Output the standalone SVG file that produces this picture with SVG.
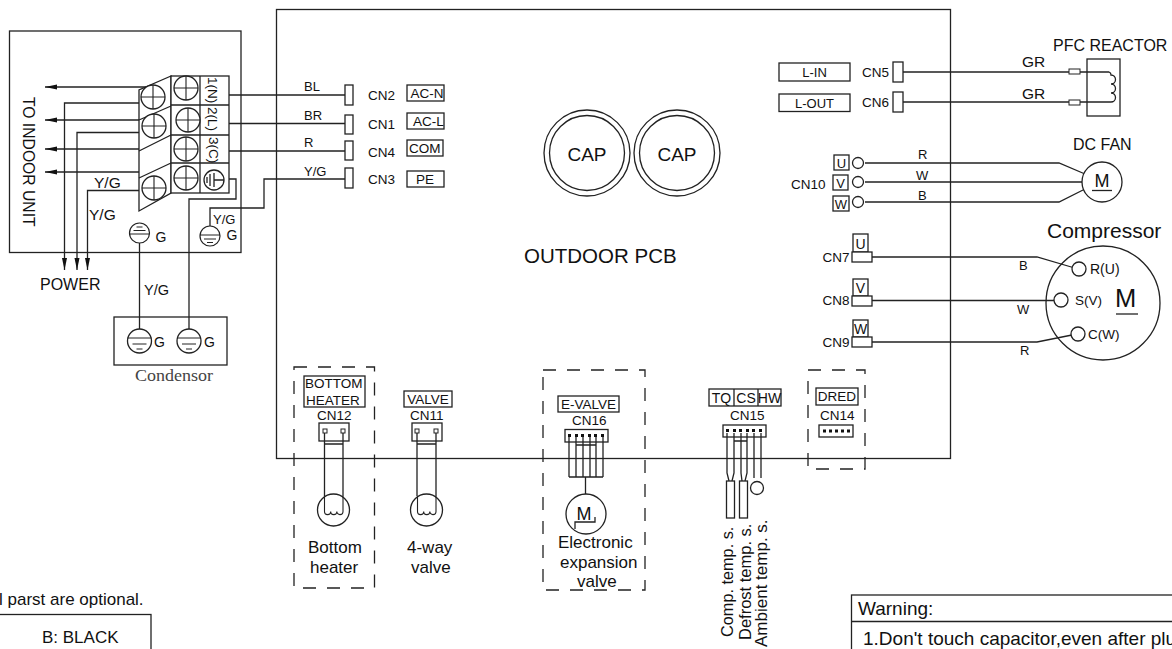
<svg xmlns="http://www.w3.org/2000/svg" width="1172" height="649" viewBox="0 0 1172 649">
<style>
text{font-family:"Liberation Sans",Arial,sans-serif;fill:#111;font-size:13.500px}
.l{fill:none;stroke:#222;stroke-width:1.300}
.b{fill:#fff;stroke:#222;stroke-width:1.300}
.n{fill:none;stroke:#222;stroke-width:1.300}
.d{fill:none;stroke:#222;stroke-width:1.300;stroke-dasharray:13 11}
.p{fill:#fff;stroke:#222;stroke-width:1}
.t14{font-size:14px}.t15{font-size:15.500px}.t17{font-size:17px}.t16{font-size:16px}
.t13{font-size:13px}.t19{font-size:19px}
.m{text-anchor:middle}
</style>
<defs>
<marker id="ah" viewBox="0 0 12 6" refX="12" refY="3" markerWidth="12" markerHeight="6" markerUnits="userSpaceOnUse" orient="auto"><path d="M0 0.500L12 3L0 5.500Z" fill="#111"/></marker>
<g id="screw"><circle r="12" fill="#fff" stroke="#222" stroke-width="1.300"/><path d="M-12 0H12M0 -12V12" stroke="#222" stroke-width="1.100"/></g>
<g id="gnd"><circle r="10" fill="#fff" stroke="#222" stroke-width="1.200"/><path d="M-10 -1H10M-6 3H6M-3 6.500H3" stroke="#222" stroke-width="1"/></g>
<g id="gnd-up"><circle r="10" fill="#fff" stroke="#222" stroke-width="1.200"/><path d="M-10 1H10M-6 -2.500H6M-3 -6H3" stroke="#222" stroke-width="1"/></g>
<g id="gnd2"><circle r="12" fill="#fff" stroke="#222" stroke-width="1.300"/><path d="M-12 -3H12M-7 3H7M-3 8H3" stroke="#222" stroke-width="1"/></g>
<path id="coil" d="M-9.250 -14V1.500a3.080 3.080 0 0 0 6.170 0a3.080 3.080 0 0 0 6.170 0a3.080 3.080 0 0 0 6.160 0V-14" fill="none" stroke="#222" stroke-width="1.100"/>
</defs>

<g id="pcb"><rect x="276.500" y="9.500" width="674" height="449" class="n"/>
<text x="524" y="263" style="font-size:20.500px">OUTDOOR PCB</text></g>

<g id="indoor-unit"><rect x="9.500" y="31" width="231.500" height="221.500" class="n"/>
<text transform="translate(23,97) rotate(90)" style="font-size:15.700px">TO INDOOR UNIT</text></g>

<g id="connectors">
<path class="l" d="M171 87H45" marker-end="url(#ah)"/>
<path class="l" d="M171 120H45" marker-end="url(#ah)"/>
<path class="l" d="M171 149H45" marker-end="url(#ah)"/>
<path class="l" d="M171 172H45" marker-end="url(#ah)"/>
<path class="l" d="M139 103H64.500V270" marker-end="url(#ah)"/>
<path class="l" d="M139 132.500H77V270" marker-end="url(#ah)"/>
<path class="l" d="M139 190.500H87.500V270" marker-end="url(#ah)"/>
<path class="l" d="M229 95H345M229 123.500H345M229 151H345"/>
<path class="l" d="M345 179H264V208H210V226"/>
<path class="l" d="M225 179H236V199H189V330"/>
<path class="l" d="M139.500 243V330"/>
<path class="l" d="M903 72H1069M903 102H1069"/>
<path class="l" d="M865 163H1059L1085 174M865 182H1082M865 202H1059L1083 190"/>
<path class="l" d="M872 257H1037L1073 267.500M872 300.500H1054M872 342H1037L1072 335"/>
<path class="l" d="M324.500 433V496M343 433V496M324.500 444H343"/>
<path class="l" d="M417 433V496M436 433V496M417 444H436"/>
<path class="l" d="M569 437V477M576 437V477M583 437V477M590 437V477M596 437V477M603 437V477M569 477H603M576 445H596M585.500 477V494"/>
<path class="l" d="M727 433V473L729 481M734 433V473L732 481M741 433V473L742 481M747 433V473L745 481M754 433V478M761 433V478M734 441H747"/>
</g>

<g id="terminal-block">
<path class="b" d="M171 76L139 90V211L171 193Z"/>
<path class="n" d="M171 106L139 120M171 135L139 151M171 163L139 178"/>
<rect x="171" y="76" width="58" height="117" class="b"/>
<path class="n" d="M200 76V193M171 105H229M171 135H229M171 163H229"/>
<use href="#screw" x="186" y="88"/><use href="#screw" x="188" y="120"/><use href="#screw" x="186" y="149"/><use href="#screw" x="186" y="178"/>
<use href="#screw" x="153" y="97"/><use href="#screw" x="154" y="126"/><use href="#screw" x="154" y="188"/>
<circle cx="214" cy="180" r="10" class="n"/><path class="n" d="M214 173V187M214 180H224M210 174V186M207 177V183" stroke-width="1"/>
<text transform="translate(207.500,77) rotate(90)">1(N)</text>
<text transform="translate(207.500,107) rotate(90)">2(L)</text>
<text transform="translate(208.500,137) rotate(90)">3(C)</text>
</g>

<g id="wire-labels-left">
<text x="94" y="188" class="t15">Y/G</text><text x="89" y="220" class="t15">Y/G</text>
<text x="213" y="224" class="t13">Y/G</text><text x="144" y="295" style="font-size:14.500px">Y/G</text>
</g>

<g id="ground-g1"><use href="#gnd-up" x="139.500" y="233"/><text x="155.500" y="242" class="t14">G</text></g>
<g id="ground-g2"><use href="#gnd" x="210" y="236"/><text x="226.500" y="240" class="t14">G</text></g>
<g id="power"><text x="40" y="290" class="t16">POWER</text></g>

<g id="condensor"><rect x="114" y="317" width="113" height="48" class="n"/>
<use href="#gnd2" x="139.500" y="341"/><use href="#gnd2" x="189" y="341"/>
<text x="154" y="346.500" class="t14">G</text><text x="204" y="346.500" class="t14">G</text>
<text x="135" y="381" textLength="78" lengthAdjust="spacingAndGlyphs" style="font-family:'Liberation Serif',serif;font-size:16px;fill:#444">Condensor</text></g>

<g id="cn-left">
<rect x="345" y="85" width="8" height="20" class="b"/><rect x="345" y="115" width="8" height="19" class="b"/><rect x="345" y="141" width="8" height="19" class="b"/><rect x="345" y="168" width="8" height="20" class="b"/>
<text x="304" y="91" class="t13">BL</text><text x="304" y="120" class="t13">BR</text><text x="304" y="147" class="t13">R</text><text x="304" y="176" class="t13">Y/G</text>
<text x="368" y="100">CN2</text><text x="368" y="129">CN1</text><text x="368" y="157">CN4</text><text x="368" y="184">CN3</text>
<rect x="407" y="85" width="37" height="16" class="n"/><rect x="407" y="113" width="37" height="16" class="n"/><rect x="407" y="140" width="36" height="16" class="n"/><rect x="407" y="171" width="37" height="16" class="n"/>
<text x="410.500" y="98">AC-N</text><text x="413" y="126">AC-L</text><text x="409" y="153">COM</text><text x="416" y="184">PE</text>
</g>

<g id="cap1"><circle cx="587" cy="153" r="43" class="n"/><circle cx="587" cy="153" r="37.500" class="n"/><text x="587" y="160.500" class="t19 m">CAP</text></g>
<g id="cap2"><circle cx="677" cy="153" r="43" class="n"/><circle cx="677" cy="153" r="37.500" class="n"/><text x="677" y="160.500" class="t19 m">CAP</text></g>

<g id="cn5-cn6">
<rect x="779" y="63" width="71" height="18" class="n"/><rect x="779" y="94" width="71" height="17.500" class="n"/>
<text x="814.500" y="77" class="m t13">L-IN</text><text x="814.500" y="108" class="m t13">L-OUT</text>
<text x="862" y="77">CN5</text><text x="862" y="107">CN6</text>
<rect x="893" y="62" width="10" height="20" class="b"/><rect x="893" y="92" width="10" height="20" class="b"/>
</g>

<g id="pfc-reactor"><rect x="1087" y="59" width="33" height="57" class="n"/>
<path class="n" d="M1080 72H1109a3 3 0 0 1 2 3a4 4 0 0 1 0 9a4 4 0 0 1 0 9a4 4 0 0 1 0 9H1080"/>
<rect x="1069" y="69" width="11" height="5" class="p"/><rect x="1069" y="100" width="11" height="5" class="p"/>
<text x="1053" y="51" class="t16">PFC REACTOR</text>
<text x="1022" y="67" class="t15">GR</text><text x="1022" y="99" class="t15">GR</text></g>

<g id="cn10">
<rect x="834" y="155" width="15" height="15" class="n"/><rect x="833" y="175" width="15" height="15" class="n"/><rect x="833" y="196" width="16" height="15" class="n"/>
<text x="841.500" y="167.500" class="m t13">U</text><text x="840.500" y="187.500" class="m t13">V</text><text x="841" y="208.500" class="m t13">W</text>
<circle cx="858" cy="163" r="5.500" class="n"/><circle cx="858" cy="182" r="5.500" class="n"/><circle cx="858" cy="202" r="5.500" class="n"/>
<text x="791" y="189">CN10</text>
<text x="918" y="159" class="t13">R</text><text x="916" y="180" class="t13">W</text><text x="918" y="200" class="t13">B</text>
</g>

<g id="dc-fan"><circle cx="1102" cy="182" r="20" class="b"/><text x="1102" y="187" class="m" style="font-size:18px">M</text><path class="n" d="M1092 190.500H1112"/>
<text x="1073" y="150" class="t16">DC FAN</text></g>

<g id="cn7-cn9">
<rect x="853" y="234" width="15" height="18" class="n"/><rect x="852" y="252" width="20" height="10" class="b"/>
<rect x="853" y="279" width="15" height="17" class="n"/><rect x="852" y="296" width="20" height="10" class="b"/>
<rect x="853" y="320" width="15" height="17" class="n"/><rect x="852" y="337" width="20" height="10" class="b"/>
<text x="860.500" y="249" class="m t14">U</text><text x="860.500" y="293" class="m t14">V</text><text x="860.500" y="334" class="m t14">W</text>
<text x="822.500" y="262">CN7</text><text x="822.500" y="305">CN8</text><text x="822.500" y="347">CN9</text>
<text x="1019" y="270" class="t13">B</text><text x="1017" y="314" class="t13">W</text><text x="1020" y="355" class="t13">R</text>
</g>

<g id="compressor"><circle cx="1103" cy="303" r="57" class="n"/>
<circle cx="1079" cy="269" r="7" class="b"/><circle cx="1061" cy="300" r="7" class="b"/><circle cx="1078" cy="334" r="7" class="b"/>
<text x="1090" y="273.500" class="t14">R(U)</text><text x="1075" y="305">S(V)</text><text x="1088" y="339">C(W)</text>
<text x="1115" y="307" style="font-size:25.500px">M</text><path class="n" d="M1116 314H1138"/>
<text x="1047" y="238" style="font-size:21px">Compressor</text></g>

<g id="bottom-heater"><rect x="294" y="367" width="80.500" height="221" class="d"/>
<rect x="304" y="376" width="61" height="31" class="n"/>
<text x="305" y="388">BOTTOM</text><text x="306" y="405">HEATER</text><text x="317" y="420">CN12</text>
<rect x="319" y="423" width="30" height="18" class="n"/><rect x="323" y="429" width="4" height="4" class="p"/><rect x="341" y="429" width="4" height="4" class="p"/>
<circle cx="333.500" cy="510" r="16" class="b"/><use href="#coil" x="333.750" y="510"/>
<text x="308" y="553" class="t17">Bottom</text><text x="310" y="573" class="t17">heater</text></g>

<g id="valve"><rect x="404" y="391" width="48" height="16" class="n"/>
<text x="428" y="404" class="m">VALVE</text><text x="410" y="420">CN11</text>
<rect x="412" y="423" width="30" height="18" class="n"/><rect x="415" y="429" width="4" height="4" class="p"/><rect x="434" y="429" width="4" height="4" class="p"/>
<circle cx="426.500" cy="510" r="16" class="b"/><use href="#coil" x="426.750" y="510"/>
<text x="407" y="553" class="t17">4-way</text><text x="411" y="573" class="t17">valve</text></g>

<g id="e-valve"><rect x="543" y="370" width="102" height="220" class="d"/>
<rect x="558" y="396" width="61" height="16" class="n"/>
<text x="588.500" y="409" class="m">E-VALVE</text><text x="572" y="425">CN16</text>
<rect x="565" y="429.500" width="43" height="12.500" class="n"/>
<g fill="#111"><rect x="568" y="434" width="3" height="3"/><rect x="575" y="434" width="3" height="3"/><rect x="581" y="434" width="3" height="3"/><rect x="588" y="434" width="3" height="3"/><rect x="594" y="434" width="3" height="3"/><rect x="601" y="434" width="3" height="3"/></g>
<circle cx="586" cy="514" r="20" class="b"/><text x="584" y="520" class="m" style="font-size:18px">M</text><path class="n" d="M575 529V522H595V517"/>
<text x="558" y="548" class="t17">Electronic</text><text x="560" y="568" class="t17">expansion</text><text x="577" y="587" class="t17">valve</text></g>

<g id="cn15"><rect x="709" y="389" width="72" height="17" class="n"/><path class="n" d="M734 389V406M758 389V406"/>
<text x="721.500" y="402.500" class="m t14">TQ</text><text x="746" y="402.500" class="m t14">CS</text><text x="769.500" y="402.500" class="m t14">HW</text><text x="730" y="420">CN15</text>
<rect x="723" y="425" width="43" height="12" class="n"/>
<g fill="#111"><rect x="726" y="429" width="3" height="3"/><rect x="733" y="429" width="3" height="3"/><rect x="739" y="429" width="3" height="3"/><rect x="746" y="429" width="3" height="3"/><rect x="752" y="429" width="3" height="3"/><rect x="759" y="429" width="3" height="3"/></g>
<rect x="726.500" y="481" width="8" height="37" class="b"/><rect x="739.500" y="481" width="8" height="37" class="b"/><circle cx="757" cy="488" r="6.500" class="b"/>
<text transform="translate(733,637) rotate(-90)" style="font-size:16.300px">Comp. temp. s.</text>
<text transform="translate(751,640) rotate(-90)" style="font-size:16.500px">Defrost temp. s.</text>
<text transform="translate(767,647) rotate(-90)" style="font-size:17px">Ambient temp. s.</text></g>

<g id="dred"><rect x="808" y="370" width="57" height="99" class="d"/>
<rect x="816" y="388" width="42" height="17" class="n"/><text x="837" y="401" class="m">DRED</text><text x="820" y="420">CN14</text>
<rect x="819" y="425" width="34" height="12" class="n"/>
<g fill="#111"><rect x="823" y="429.500" width="3" height="3"/><rect x="829" y="429.500" width="3" height="3"/><rect x="835" y="429.500" width="3" height="3"/><rect x="841" y="429.500" width="3" height="3"/><rect x="847" y="429.500" width="3" height="3"/></g></g>

<g id="legend"><text x="-1" y="605" class="t17">l parst are optional.</text>
<rect x="-20" y="614.500" width="171" height="60" class="n"/><text x="42" y="643" class="t17">B: BLACK</text></g>

<g id="warning"><rect x="851.500" y="595" width="340" height="80" class="n"/><path class="n" d="M851.500 621.500H1172"/>
<text x="858" y="615" class="t19">Warning:</text><text x="863" y="645" class="t19">1.Don't touch capacitor,even after plu</text></g>
</svg>
